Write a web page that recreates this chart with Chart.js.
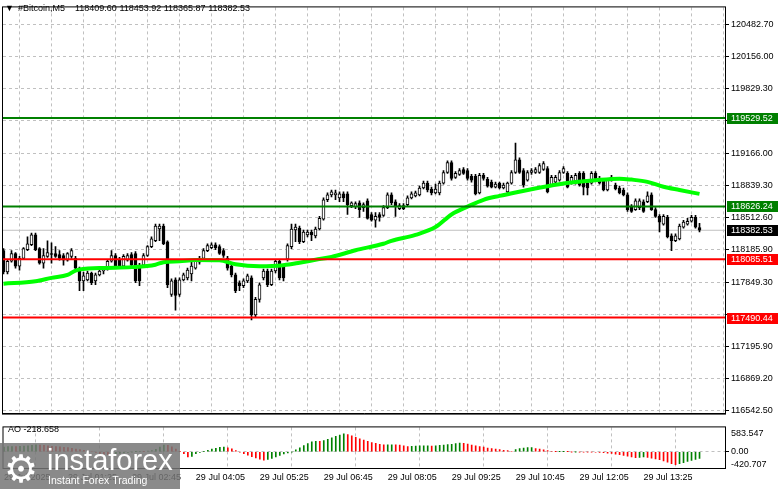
<!DOCTYPE html>
<html>
<head>
<meta charset="utf-8">
<script src="https://cdn.jsdelivr.net/npm/chart.js@4.4.1/dist/chart.umd.min.js"></script>
<style>
html, body { margin: 0; padding: 0; background: #fff; }
#wrap { position: relative; width: 781px; height: 489px; overflow: hidden; }
#main { position: absolute; left: 0; top: 0; }
#ao { position: absolute; left: 0; top: 420px; }
</style>
</head>
<body>
<div id="wrap">
  <canvas id="main" width="781" height="421"></canvas>
  <canvas id="ao" width="781" height="69"></canvas>
</div>
<script>
// #Bitcoin M5, 29 Jul 00:05 .. 14:35 (one value per 5 minute bar)
const open = [118175,117956,118066,118145,118016,118096,118185,118235,118335,118195,118046,118115,118145,118145,118135,118125,118076,118115,118096,117996,
  117866,117876,117946,117866,117926,117966,117996,118066,118125,118076,118016,118076,118135,118145,118026,118026,118125,118215,118275,118395,
  118425,118265,117726,117876,117726,117876,117896,117936,117996,118056,118096,118175,118205,118235,118215,118175,118096,118016,117926,117846,
  117816,117866,117896,117517,117677,117896,117966,117826,117966,118066,118016,118086,118215,118385,118405,118265,118335,118365,118325,118395,
  118495,118694,118744,118744,118714,118754,118754,118634,118624,118664,118614,118684,118544,118485,118544,118534,118614,118744,118674,118604,
  118634,118644,118714,118734,118744,118814,118864,118804,118764,118764,118864,118973,119073,118923,118953,119003,118993,118933,118933,118764,
  118943,118903,118874,118824,118864,118814,118774,118864,118973,119103,118993,118894,118973,118973,118973,119003,119013,118844,118874,118894,
  118973,118963,118864,118864,118963,118963,118864,118864,118963,118913,118894,118794,118894,118844,118814,118794,118744,118624,118594,118614,
  118674,118674,118744,118594,118524,118445,118514,118325,118275,118295,118415,118445,118475,118514,118409.60];
const high = [118195,118076,118175,118155,118115,118205,118315,118355,118355,118205,118195,118275,118255,118215,118175,118145,118155,118195,118115,118006,
  117956,117966,117956,117946,117986,118006,118076,118175,118145,118105,118135,118145,118155,118165,118046,118145,118225,118315,118445,118445,
  118445,118275,117886,117896,117896,117946,117996,118056,118086,118115,118195,118245,118255,118255,118235,118195,118115,118036,117946,117866,
  117886,117936,117916,117697,117846,117986,117986,117986,118086,118086,118036,118245,118445,118445,118425,118385,118385,118385,118415,118524,
  118714,118764,118794,118794,118774,118774,118774,118674,118674,118684,118664,118704,118564,118564,118564,118634,118764,118764,118694,118654,
  118654,118734,118774,118784,118834,118884,118884,118824,118854,118884,118993,119093,119093,118983,119013,119023,119013,118953,118953,118963,
  118963,118923,118894,118874,118874,118864,118874,118993,119273,119123,119013,118993,119013,119023,119063,119083,119033,118943,118943,118993,
  119033,118983,118943,118963,118983,118983,118884,118983,118983,118933,118913,118913,118943,118864,118834,118814,118764,118644,118704,118704,
  118694,118774,118764,118614,118544,118544,118534,118345,118345,118445,118485,118504,118534,118534,118453.92];
const low = [117936,117936,118056,117996,117976,118086,118175,118225,118175,118036,117996,118105,118046,118105,118076,118026,118066,118096,117976,117766,
  117766,117866,117826,117826,117916,117936,117976,118056,118006,117996,118006,118066,118016,117846,117816,118016,118115,118205,118265,118275,
  118235,117796,117706,117567,117706,117866,117876,117866,117986,118036,118076,118165,118195,118185,118135,118105,117976,117906,117746,117766,
  117796,117846,117467,117497,117647,117876,117806,117816,117946,117876,117866,118066,118195,118265,118245,118255,118315,118275,118305,118385,
  118485,118674,118724,118694,118674,118674,118544,118614,118604,118514,118574,118495,118475,118415,118475,118524,118604,118644,118524,118594,
  118594,118634,118704,118724,118734,118804,118774,118744,118754,118744,118854,118963,118894,118913,118943,118953,118894,118874,118744,118754,
  118894,118824,118814,118814,118804,118804,118764,118854,118963,118963,118824,118884,118953,118963,118963,118993,118764,118834,118864,118884,
  118963,118814,118854,118854,118834,118744,118744,118854,118903,118854,118784,118784,118884,118794,118754,118734,118574,118564,118584,118594,
  118564,118664,118584,118514,118365,118435,118305,118175,118265,118285,118405,118435,118465,118405,118365.87];
const close = [117956,118066,118145,118016,118096,118195,118245,118335,118185,118046,118125,118155,118135,118115,118096,118076,118145,118175,117996,117866,
  117916,117946,117846,117926,117966,117986,118066,118125,118016,118016,118115,118125,118026,117866,117866,118125,118215,118295,118425,118425,
  118245,117826,117866,117716,117876,117926,117976,118016,118066,118096,118175,118225,118235,118205,118145,118125,117996,117926,117766,117816,
  117866,117916,117517,117677,117826,117966,117826,117966,118066,117896,117896,118225,118395,118415,118265,118365,118365,118335,118395,118504,
  118694,118744,118774,118764,118754,118714,118644,118664,118654,118594,118644,118504,118485,118524,118514,118614,118744,118664,118624,118634,
  118604,118714,118754,118764,118814,118864,118794,118764,118804,118864,118973,119073,118913,118963,118993,118963,118913,118894,118754,118943,
  118913,118834,118824,118854,118814,118844,118864,118973,119103,118973,118844,118973,118993,119003,119043,119063,118774,118923,118923,118973,
  119013,118824,118923,118943,118844,118824,118814,118963,118913,118864,118794,118894,118923,118804,118764,118744,118594,118574,118684,118684,
  118574,118734,118594,118524,118465,118524,118315,118275,118325,118425,118465,118475,118514,118415,118382.53];

// moving average at some bars
const maBars = [0,8,12,16,18,24,32,38,40,44,48,54,58,64,70,74,78,82,88,95,97,103,108,112,116,120,124,128,132,140,148,154,157,161,165,169,174];
const maValues = [117836,117861,117896,117926,117971,117996,118006,118031,118056,118066,118079,118076,118036,118016,118026,118051,118081,118110,118178,118245,
  118275,118335,118415,118544,118624,118694,118734,118769,118801,118861,118894,118910,118900,118877,118827,118794,118754];

// Awesome Oscillator
const ao = [150,165,172,168,175,185,195,210,225,220,205,192,180,172,160,148,132,112,90,68,
  45,22,0,-25,-50,-75,-95,-85,-70,-50,-35,-20,-10,5,15,10,20,40,80,150,
  215,205,160,90,10,-60,-170,-150,-60,-20,10,50,85,115,140,155,130,95,40,-15,
  -60,-110,-160,-200,-240,-270,-250,-215,-170,-120,-70,-35,-10,60,130,200,265,320,340,335,
  360,400,450,500,545,583.547,560,520,470,420,375,335,300,270,240,221,225,228,226,218,
  190,165,175,185,190,192,195,188,192,205,215,230,245,262,280,270,250,220,190,172,
  155,120,100,85,68,50,35,17,68,100,118,135,138,102,85,60,35,17,2,3,
  4,2,-3,-2,-6,-8,-10,-12,-15,-22,-30,-45,-55,-75,-95,-115,-140,-165,-190,-180,
  -170,-185,-205,-230,-260,-295,-340,-385,-420.707,-385,-350,-315,-280,-245,-218.658];

const priceTicks = [120482.70,120156.00,119829.30,119502.60,119166.00,118839.30,118512.60,118185.90,117849.30,117522.60,117195.90,116869.20,116542.50];
const aoTicks = [583.547, 0, -420.707];
const timeLabels = ['29 Jul 2025','29 Jul 01:25','29 Jul 02:45','29 Jul 04:05','29 Jul 05:25','29 Jul 06:45',
  '29 Jul 08:05','29 Jul 09:25','29 Jul 10:45','29 Jul 12:05','29 Jul 13:25'];

const levelPrices = [119529.52, 118626.24, 118085.51, 117490.44];
const levelColors = ['#008000', '#008000', '#ff0000', '#ff0000'];
const bidPrice = close[close.length - 1];

const FONT = '"Liberation Sans", Arial, "DejaVu Sans", sans-serif';
Chart.defaults.font.family = FONT;
Chart.defaults.font.size = 9;
Chart.defaults.color = '#000';

const xMin = -0.125, xMax = 180.375;
const GRID = '#c0c0c0';
const idx = open.map((v, i) => i);

const flatLine = (v, color, width, order) => ({
  type: 'line', data: [{x: xMin, y: v}, {x: xMax, y: v}],
  borderColor: color, borderWidth: width, pointRadius: 0, order: order
});

// a tick label that sits under a coloured price tag is not drawn
const underTag = v => levelPrices.some(p => Math.abs(p - v) < 60);

const panelBorder = {
  id: 'panelBorder',
  afterDraw(chart) {
    const {ctx, chartArea: a} = chart;
    ctx.save();
    ctx.strokeStyle = '#000';
    ctx.lineWidth = 1;
    ctx.strokeRect(a.left - 0.5, a.top - 0.5, a.right - a.left + 1, a.bottom - a.top + 1);
    ctx.restore();
  }
};

const mainDecor = {
  id: 'mainDecor',
  afterDraw(chart) {
    const {ctx, scales: {y}} = chart;
    ctx.save();
    ctx.font = '9px ' + FONT;
    ctx.textBaseline = 'middle';
    const tag = (v, bg) => {
      const py = Math.round(y.getPixelForValue(v));
      ctx.fillStyle = bg;
      ctx.fillRect(727, py - 5, 51, 11);
      ctx.fillStyle = '#fff';
      ctx.fillText(v.toFixed(2), 731, py + 0.5);
    };
    levelPrices.forEach((v, k) => tag(v, levelColors[k]));
    tag(bidPrice, '#000');
    ctx.fillStyle = '#000';
    ctx.fillText('\u25BC', 5, 9);
    ctx.fillText('#Bitcoin,M5', 18, 9);
    ctx.fillText([open, high, low, close].map(s => s[s.length - 1].toFixed(2)).join(' '), 75, 9);
    ctx.restore();
  }
};

new Chart(document.getElementById('main'), {
  type: 'bar',
  data: {
    datasets: [
      ...levelPrices.map((v, k) => flatLine(v, levelColors[k], 2, 0)),
      {
        type: 'line', order: 1,
        data: maBars.map((b, k) => ({x: b, y: maValues[k]})),
        borderColor: '#00ff00', borderWidth: 4, pointRadius: 0, tension: 0.4,
        cubicInterpolationMode: 'monotone'
      },
      {
        order: 2, grouped: false, barThickness: 3, minBarLength: 1,
        data: idx.map(i => ({x: i, y: [open[i], close[i]]})),
        backgroundColor: c => close[c.dataIndex] >= open[c.dataIndex] ? '#ffffff' : '#000000',
        borderColor: '#000', borderWidth: 1, borderSkipped: false
      },
      {
        order: 3, grouped: false, barThickness: 1,
        data: idx.map(i => ({x: i, y: [low[i], high[i]]})),
        backgroundColor: '#000'
      },
      flatLine(bidPrice, '#c0c0c0', 1, 4)
    ]
  },
  options: {
    responsive: false, animation: false, devicePixelRatio: 1,
    layout: {padding: {left: 3, top: 3, right: 0, bottom: 2}, autoPadding: false},
    plugins: {legend: {display: false}, tooltip: {enabled: false}},
    scales: {
      x: {
        type: 'linear', min: xMin, max: xMax, offset: false,
        afterBuildTicks: ax => { ax.ticks = []; for (let b = 0; b <= 176; b += 8) ax.ticks.push({value: b}); },
        ticks: {display: false},
        grid: {color: GRID, drawTicks: false},
        border: {color: '#000', dash: [3, 3]}
      },
      y: {
        position: 'right',
        min: 116509.6, max: 120659.3,
        afterBuildTicks: ax => { ax.ticks = priceTicks.map(v => ({value: v})); },
        afterFit: ax => { ax.width = 56; },
        ticks: {callback: v => underTag(v) ? '' : v.toFixed(2), padding: 2, autoSkip: false},
        grid: {color: GRID, tickColor: '#000', tickLength: 4},
        border: {color: '#000', dash: [3, 3]}
      }
    }
  },
  plugins: [panelBorder, mainDecor]
});

const aoDecor = {
  id: 'aoDecor',
  afterDraw(chart) {
    const {ctx} = chart;
    ctx.save();
    ctx.font = '9px ' + FONT;
    ctx.textBaseline = 'middle';
    ctx.fillStyle = '#000';
    ctx.fillText('AO ' + ao[ao.length - 1].toFixed(3), 8, 10);
    // instaforex watermark
    ctx.fillStyle = 'rgba(118,118,118,0.85)';
    ctx.fillRect(0, 23, 180, 46);
    ctx.fillStyle = '#fff';
    ctx.textBaseline = 'alphabetic';
    ctx.font = '38px "DejaVu Sans", sans-serif';
    ctx.fillText('\u2699', 4, 62);
    ctx.font = '29px ' + FONT;
    ctx.fillText('instaforex', 47, 50);
    ctx.font = '10.5px ' + FONT;
    ctx.fillText('Instant Forex Trading', 48, 64);
    ctx.restore();
  }
};

new Chart(document.getElementById('ao'), {
  type: 'bar',
  data: {
    datasets: [{
      grouped: false, barThickness: 1,
      data: idx.map(i => ({x: i, y: ao[i]})),
      backgroundColor: c => (c.dataIndex > 0 && ao[c.dataIndex] < ao[c.dataIndex - 1]) ? '#ff0000' : '#008000'
    }]
  },
  options: {
    responsive: false, animation: false, devicePixelRatio: 1,
    layout: {padding: {left: 3, top: 1, right: 0, bottom: 0}, autoPadding: false},
    plugins: {legend: {display: false}, tooltip: {enabled: false}},
    scales: {
      x: {
        type: 'linear', min: xMin, max: xMax, offset: false,
        afterBuildTicks: ax => { ax.ticks = []; for (let b = 0; b <= 176; b += 16) ax.ticks.push({value: b}); },
        afterFit: ax => { ax.height = 21; },
        ticks: {align: 'start', padding: 4, maxRotation: 0, minRotation: 0, autoSkip: false,
          callback: v => timeLabels[v / 16] || ''},
        grid: {color: GRID, drawTicks: false},
        border: {color: '#000', dash: [3, 3]}
      },
      y: {
        position: 'right', min: -526, max: 790,
        afterBuildTicks: ax => { ax.ticks = aoTicks.map(v => ({value: v})); },
        afterFit: ax => { ax.width = 56; },
        ticks: {callback: v => v === 0 ? '0.00' : String(v), padding: 2, autoSkip: false},
        grid: {color: c => c.tick && c.tick.value === 0 ? GRID : 'rgba(0,0,0,0)',
               tickColor: c => c.tick && c.tick.value === 0 ? '#000' : 'rgba(0,0,0,0)', tickLength: 4},
        border: {color: '#000', dash: [3, 3]}
      }
    }
  },
  plugins: [panelBorder, aoDecor]
});
</script>
</body>
</html>
